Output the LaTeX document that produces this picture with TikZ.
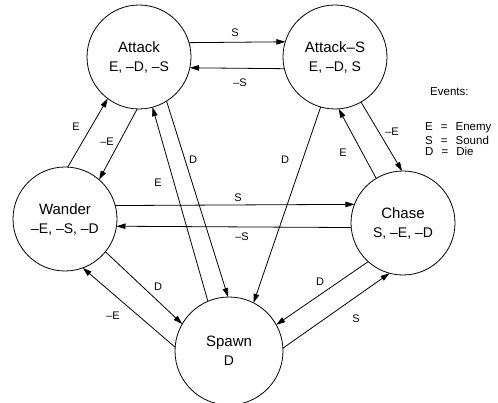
\documentclass[tikz,border=0pt]{standalone}
\usepackage{fontspec}
\setmainfont{Liberation Sans}
\usetikzlibrary{arrows.meta}
\begin{document}
\begin{tikzpicture}[x=1pt,y=-1pt,
  state/.style={circle,draw,line width=0.8pt,minimum size=104pt,inner sep=0pt,outer sep=0pt,
    align=center,font=\fontsize{15}{19}\selectfont},
  trans/.style={draw,line width=0.8pt,-{Triangle[length=9pt,width=5.5pt]}},
  lbl/.style={font=\fontsize{11}{13}\selectfont,inner sep=0pt},
  legend/.style={font=\fontsize{11.5}{13}\selectfont,inner sep=0pt,anchor=west}]
\useasboundingbox (0,0) rectangle (498,403);

% states
\node[state] (attack)  at (139,57)  {Attack\\{\fontsize{14}{17}\selectfont E, –D, –S}};
\node[state] (attacks) at (335,57)  {Attack–S\\{\fontsize{14}{17}\selectfont E, –D, S}};
\node[state] (wander)  at (65,219)  {Wander\\{\fontsize{14}{17}\selectfont –E, –S, –D}};
\node[state] (chase)   at (403,223) {Chase\\{\fontsize{14}{17}\selectfont S, –E, –D}};
\node[state,minimum size=108pt] (spawn) at (229,351) {Spawn\\{\fontsize{14}{17}\selectfont D}};

% transitions
\draw[trans] (attack.16.8)    -- (attacks.163.2);
\draw[trans] (attacks.-167.8) -- (attack.-12.2);
\draw[trans] (wander.87.8)    -- (attack.-127.1);
\draw[trans] (attack.-92)     -- (wander.49.5);
\draw[trans] (attack.-58.7)   -- (spawn.91);
\draw[trans] (spawn.113.3)    -- (attack.-75.7);
\draw[trans] (attacks.-106)   -- (spawn.63.9);
\draw[trans] (attacks.-60)    -- (chase.91);
\draw[trans] (chase.121.9)    -- (attacks.-86.6);
\draw[trans] (wander.15.6)    -- (chase.159.7);
\draw[trans] (chase.-175.6)   -- (wander.-8.8);
\draw[trans] (wander.-39.5)   -- (spawn.150.3);
\draw[trans] (spawn.176.9)    -- (wander.-70.5);
\draw[trans] (chase.-132.7)   -- (spawn.29.7);
\draw[trans] (spawn.3.2)      -- (chase.-105.2);

% transition labels
\node[lbl] (l1)  at (235,33)  {S};
\node[lbl] (l2)  at (240,83)  {–S};
\node[lbl] (l3)  at (76,127)  {E};
\node[lbl] (l4)  at (107,142) {–E};
\node[lbl] (l5)  at (193,160) {D};
\node[lbl] (l6)  at (158,183) {E};
\node[lbl] (l7)  at (285,160) {D};
\node[lbl] (l8)  at (392,132) {–E};
\node[lbl] (l9)  at (343,153) {E};
\node[lbl] (l10) at (238,198) {S};
\node[lbl] (l11) at (242,237) {–S};
\node[lbl] (l12) at (158,287) {D};
\node[lbl] (l13) at (113,316) {–E};
\node[lbl] (l14) at (320,282) {D};
\node[lbl] (l15) at (356,319) {S};

% legend
\node[legend] (ev) at (430,92)  {Events:};
\node[legend] (le) at (425,128) {E\hspace{0.7em}=\hspace{0.7em}Enemy};
\node[legend] (ls) at (425,140) {S\hspace{0.7em}=\hspace{0.7em}Sound};
\node[legend] (ld) at (425,151) {D\hspace{0.7em}=\hspace{0.7em}Die};
\end{tikzpicture}
\end{document}
